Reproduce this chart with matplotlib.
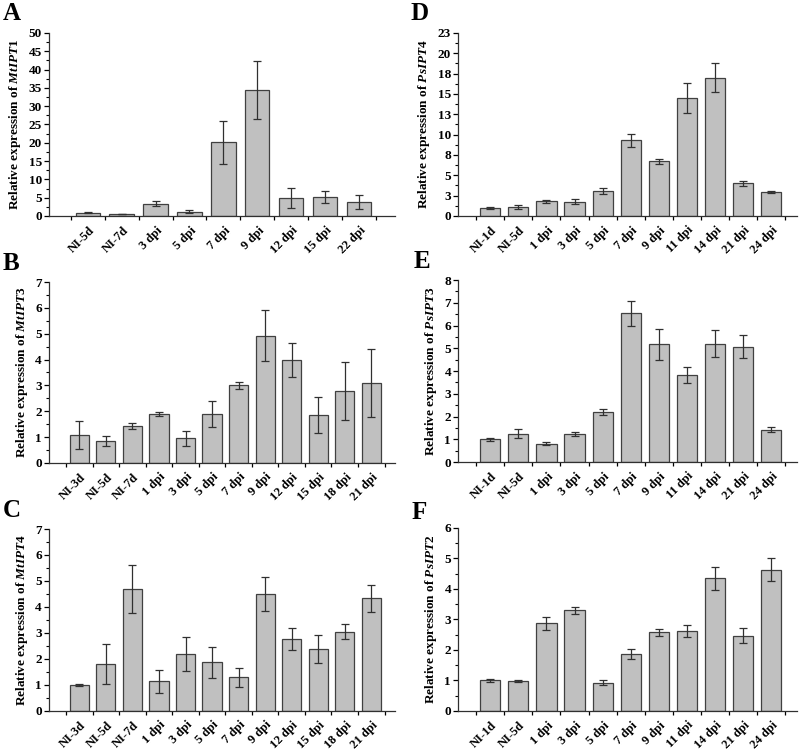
import matplotlib.pyplot as plt
import numpy as np
from matplotlib.ticker import MultipleLocator, FixedLocator, FixedFormatter

plt.rcParams['font.family'] = 'Liberation Serif'
plt.rcParams['font.weight'] = 'bold'
plt.rcParams['mathtext.fontset'] = 'custom'
plt.rcParams['mathtext.it'] = 'Liberation Serif:bold:italic'
plt.rcParams['mathtext.rm'] = 'Liberation Serif:bold'

### Data
# A - MtIPT1
cats_A = ['NI-5d', 'NI-7d', '3 dpi', '5 dpi', '7 dpi', '9 dpi', '12 dpi', '15 dpi', '22 dpi']
vals_A = [0.9, 0.6, 3.3, 1.1, 20.1, 34.5, 5.0, 5.2, 3.8]
errs_A = [0.2, 0.05, 0.7, 0.4, 5.8, 7.9, 2.7, 1.6, 2.0]

# B - MtIPT3
cats_B = ['NI-3d', 'NI-5d', 'NI-7d', '1 dpi', '3 dpi', '5 dpi', '7 dpi', '9 dpi',
          '12 dpi', '15 dpi', '18 dpi', '21 dpi']
vals_B = [1.1, 0.85, 1.43, 1.9, 0.95, 1.9, 3.0, 4.93, 4.0, 1.85, 2.77, 3.1]
errs_B = [0.54, 0.18, 0.1, 0.08, 0.3, 0.49, 0.12, 0.98, 0.66, 0.7, 1.12, 1.32]

# C - MtIPT4
cats_C = cats_B
vals_C = [1.0, 1.82, 4.7, 1.15, 2.2, 1.88, 1.3, 4.5, 2.78, 2.4, 3.05, 4.33]
errs_C = [0.05, 0.77, 0.92, 0.44, 0.65, 0.6, 0.36, 0.64, 0.43, 0.54, 0.3, 0.52]

# D - PsIPT4
cats_D = ['NI-1d', 'NI-5d', '1 dpi', '3 dpi', '5 dpi', '7 dpi', '9 dpi', '11 dpi',
          '14 dpi', '21 dpi', '24 dpi']
vals_D = [1.0, 1.1, 1.8, 1.75, 3.1, 9.3, 6.7, 14.5, 17.0, 4.0, 3.0]
errs_D = [0.1, 0.2, 0.15, 0.3, 0.4, 0.8, 0.3, 1.85, 1.75, 0.3, 0.12]
yticks_D = [0, 2.5, 5, 7.5, 10, 12.5, 15, 17.5, 20, 22.5]
ylabels_D = ['0', '3', '5', '8', '10', '13', '15', '18', '20', '23']

# E - PsIPT3
cats_E = cats_D
vals_E = [1.0, 1.25, 0.8, 1.22, 2.2, 6.53, 5.17, 3.82, 5.2, 5.07, 1.42]
errs_E = [0.07, 0.2, 0.07, 0.08, 0.15, 0.57, 0.68, 0.35, 0.6, 0.5, 0.1]

# F - PsIPT2
cats_F = cats_D
vals_F = [1.0, 0.97, 2.87, 3.3, 0.92, 1.86, 2.58, 2.62, 4.35, 2.47, 4.63]
errs_F = [0.06, 0.03, 0.22, 0.12, 0.08, 0.16, 0.12, 0.2, 0.37, 0.25, 0.38]

fig = plt.figure(figsize=(8, 7.51), dpi=100)

def panel(rect, letter, gene, cats, vals, errs, ymax, major, minor,
          lab_xy, right_pad=0.5, yticks=None, ylabels=None):
    ax = fig.add_axes(rect)
    x = np.arange(len(cats))
    ax.bar(x, vals, width=0.72, color='#c0c0c0', edgecolor='#404040', linewidth=0.9,
           yerr=errs, capsize=3, error_kw=dict(ecolor='#303030', elinewidth=0.9, capthick=0.9))
    ax.set_xlim(-1.15, len(cats) - 0.5 + right_pad)
    ax.set_ylim(0, ymax)
    ax.spines['top'].set_visible(False)
    ax.spines['right'].set_visible(False)
    for s in ('left', 'bottom'):
        ax.spines[s].set_color('#303030')
        ax.spines[s].set_linewidth(0.9)
    # ticks sit between the bars
    ax.xaxis.set_major_locator(FixedLocator(x[:-1] + 0.5))
    ax.xaxis.set_minor_locator(FixedLocator([-0.5, len(cats) - 0.5]))
    ax.tick_params(axis='x', which='both', direction='out', length=3, width=0.9,
                   labelbottom=False)
    for xi, c in zip(x, cats):
        ax.text(xi + 0.02, -ymax * 0.045, c, rotation=45, ha='right', va='top',
                fontsize=9, fontweight='bold', rotation_mode='anchor')
    if yticks is None:
        ax.yaxis.set_major_locator(MultipleLocator(major))
    else:
        ax.yaxis.set_major_locator(FixedLocator(yticks))
        ax.yaxis.set_major_formatter(FixedFormatter(ylabels))
    ax.yaxis.set_minor_locator(MultipleLocator(minor))
    ax.tick_params(axis='y', which='major', direction='out', length=3.5, width=0.9,
                   labelsize=9.5, pad=1.5)
    ax.tick_params(axis='y', which='minor', direction='out', length=2, width=0.8)
    ax.set_ylabel('Relative expression of $\\mathit{' + gene + '}$',
                  fontsize=9.5, fontweight='bold', labelpad=4)
    fig.text(lab_xy[0], lab_xy[1], letter, fontsize=18, fontweight='bold',
             ha='left', va='top')
    return ax

panel([0.061, 0.7124, 0.433, 0.2437], 'A', 'MtIPT1', cats_A, vals_A, errs_A,
      50, 5, 2.5, (0.003, 0.997), right_pad=0.57)
panel([0.061, 0.3835, 0.433, 0.241], 'B', 'MtIPT3', cats_B, vals_B, errs_B,
      7, 1, 0.5, (0.003, 0.665), right_pad=0.4)
panel([0.061, 0.0533, 0.433, 0.2423], 'C', 'MtIPT4', cats_C, vals_C, errs_C,
      7, 1, 0.5, (0.003, 0.335), right_pad=0.4)
panel([0.5725, 0.7124, 0.424, 0.2437], 'D', 'PsIPT4', cats_D, vals_D, errs_D,
      22.5, 2.5, 1.25, (0.513, 0.997), right_pad=0.43, yticks=yticks_D, ylabels=ylabels_D)
panel([0.5725, 0.3848, 0.424, 0.2423], 'E', 'PsIPT3', cats_E, vals_E, errs_E,
      8, 1, 0.5, (0.517, 0.667), right_pad=0.43)
panel([0.5725, 0.0533, 0.424, 0.2437], 'F', 'PsIPT2', cats_F, vals_F, errs_F,
      6, 1, 0.5, (0.515, 0.333), right_pad=0.43)

plt.savefig('out.png', dpi=100)
